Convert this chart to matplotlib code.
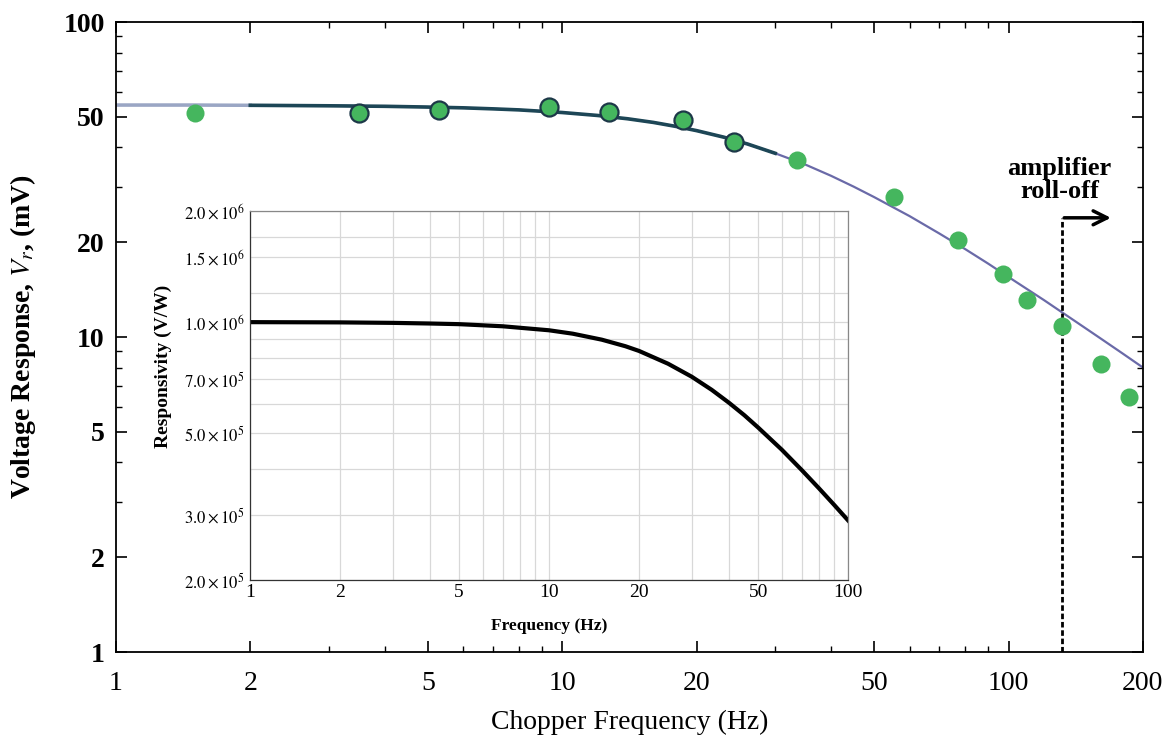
import numpy as np
import matplotlib
matplotlib.use("Agg")
import matplotlib.pyplot as plt
from matplotlib.ticker import FixedLocator, FixedFormatter, LogLocator, NullFormatter

plt.rcParams['font.family'] = ['Liberation Serif', 'DejaVu Serif']
plt.rcParams['mathtext.fontset'] = 'stix'

# ==============================
# Data
# ==============================
# measured voltage response
meas_freq = [1.5, 3.5, 5.3, 9.35, 12.7, 18.6, 24.3, 33.5, 55.5, 77, 97, 110, 132, 161, 186]
meas_volt = [51.5, 51.6, 52.5, 53.6, 51.8, 48.8, 41.6, 36.5, 27.8, 20.3, 15.8, 13.1, 10.8, 8.2, 6.45]
# which points have the dark outline
outlined = [False, True, True, True, True, True, True, False, False, False, False, False, False, False, False]

# fitted response curve
fit_freq = [1, 1.5, 2, 3, 4, 5, 6, 7, 8, 10, 12, 14, 16, 18, 20, 23, 26, 30, 35, 40, 45, 50,
            60, 70, 80, 90, 100, 120, 140, 160, 180, 200]
fit_volt = [54.5, 54.5, 54.4, 54.2, 54.0, 53.7, 53.4, 53.0, 52.6, 51.6, 50.5, 49.3, 48.0, 46.6,
            45.2, 43.1, 41.0, 38.3, 35.3, 32.5, 30.0, 27.8, 24.2, 21.3, 19.0, 17.1, 15.5, 13.1,
            11.3, 9.94, 8.87, 8.0]

# inset: responsivity vs frequency
ins_freq = [1, 2, 3, 4, 5, 7, 10, 12, 15, 18, 20, 25, 30, 35, 40, 45, 50, 60, 70, 80, 90, 100]
ins_resp = [0.9995e6, 0.998e6, 0.995e6, 0.991e6, 0.987e6, 0.974e6, 0.950e6, 0.930e6, 0.896e6,
            0.860e6, 0.835e6, 0.771e6, 0.711e6, 0.655e6, 0.604e6, 0.559e6, 0.518e6, 0.451e6,
            0.397e6, 0.354e6, 0.319e6, 0.290e6]

main_xticks = [1, 2, 5, 10, 20, 50, 100, 200]
main_yticks = [1, 2, 5, 10, 20, 50, 100]
ins_xticks = [1, 2, 5, 10, 20, 50, 100]
ins_yticks = [2e5, 3e5, 5e5, 7e5, 1e6, 1.5e6, 2e6]
ins_ylabels = [r'$2.0\times10^{5}$', r'$3.0\times10^{5}$', r'$5.0\times10^{5}$', r'$7.0\times10^{5}$',
               r'$1.0\times10^{6}$', r'$1.5\times10^{6}$', r'$2.0\times10^{6}$']

rolloff_freq = 132
rolloff_top = 23.9
arrow_end = 172

# ==============================
# Figure
# ==============================
fig = plt.figure(figsize=(11.75, 7.46), dpi=100)
ax = fig.add_axes([0.0987, 0.126, 0.874, 0.8445])

ax.set_xscale('log')
ax.set_yscale('log')
ax.set_xlim(1, 200)
ax.set_ylim(1, 100)

# fit line: light start, dark middle, bluish tail
ax.plot(fit_freq, fit_volt, color='#6a6aa8', lw=1.6, zorder=2)
ax.plot(fit_freq[:3], fit_volt[:3], color='#9aa6c4', lw=2.5, zorder=2)
ax.plot(fit_freq[2:18], fit_volt[2:18], color='#1d4656', lw=2.6, zorder=3)

for f, v, o in zip(meas_freq, meas_volt, outlined):
    ax.plot(f, v, 'o', ms=13, color='#45b65e',
            mec='#1d3848' if o else '#45b65e', mew=1.6 if o else 0, zorder=4)

# amplifier roll-off marker
ax.plot([rolloff_freq, rolloff_freq], [1, rolloff_top], color='black', lw=2,
        ls=(0, (2, 1)), zorder=3)
ax.annotate('', xy=(arrow_end, rolloff_top), xytext=(rolloff_freq * 0.995, rolloff_top),
            arrowprops=dict(arrowstyle='->', lw=2.5, color='black', mutation_scale=25))
ax.text(130, 31.5, 'amplifier\nroll-off', ha='center', va='center', fontsize=19,
        fontweight='bold', linespacing=1.05)

ax.xaxis.set_major_locator(FixedLocator(main_xticks))
ax.xaxis.set_major_formatter(FixedFormatter([str(t) for t in main_xticks]))
ax.xaxis.set_minor_locator(LogLocator(subs=np.arange(2, 10)))
ax.xaxis.set_minor_formatter(NullFormatter())
ax.yaxis.set_major_locator(FixedLocator(main_yticks))
ax.yaxis.set_major_formatter(FixedFormatter([str(t) for t in main_yticks]))
ax.yaxis.set_minor_locator(LogLocator(subs=np.arange(2, 10)))
ax.yaxis.set_minor_formatter(NullFormatter())

ax.tick_params(which='both', direction='in', top=True, right=True)
ax.tick_params(which='major', length=8, width=1.2, labelsize=20)
ax.tick_params(axis='x', which='major', pad=14)
ax.tick_params(axis='y', which='major', pad=8)
ax.tick_params(which='minor', length=4, width=1)
for lab in ax.get_yticklabels():
    lab.set_fontweight('bold')
for s in ax.spines.values():
    s.set_linewidth(1.3)

ax.set_xlabel('Chopper Frequency (Hz)', fontsize=20, labelpad=10)
ax.set_ylabel(r'Voltage Response, $V_r$, (mV)', fontsize=20, fontweight='bold', labelpad=18)

# ==============================
# Inset
# ==============================
ins = fig.add_axes([0.2128, 0.2225, 0.509, 0.4947])
ins.set_xscale('log')
ins.set_yscale('log')
ins.set_xlim(1, 100)
ins.set_ylim(2e5, 2e6)

ins.plot(ins_freq, ins_resp, color='black', lw=3)

ins.xaxis.set_major_locator(FixedLocator(ins_xticks))
ins.xaxis.set_major_formatter(FixedFormatter([str(t) for t in ins_xticks]))
ins.xaxis.set_minor_locator(LogLocator(subs=np.arange(2, 10)))
ins.xaxis.set_minor_formatter(NullFormatter())
ins.yaxis.set_major_locator(FixedLocator(ins_yticks))
ins.yaxis.set_major_formatter(FixedFormatter(ins_ylabels))
ins.yaxis.set_minor_locator(FixedLocator([4e5, 6e5, 8e5, 9e5, 1.2e6, 1.7e6]))
ins.yaxis.set_minor_formatter(NullFormatter())

ins.grid(True, which='both', color='#d8d8d8', lw=0.9)
ins.tick_params(which='both', length=0, labelsize=12, pad=4)
ins.tick_params(axis='x', which='major', labelsize=14, pad=3)
for s in ins.spines.values():
    s.set_color('#888888')
    s.set_linewidth(0.9)
ins.spines['left'].set_color('#333333')
ins.spines['bottom'].set_color('#333333')

ins.set_xlabel('Frequency (Hz)', fontsize=12.5, fontweight='bold', labelpad=12)
ins.set_ylabel('Responsivity (V/W)', fontsize=14, fontweight='bold')
ins.yaxis.set_label_coords(-0.13, 0.58)

fig.savefig('out.png', dpi=100)
